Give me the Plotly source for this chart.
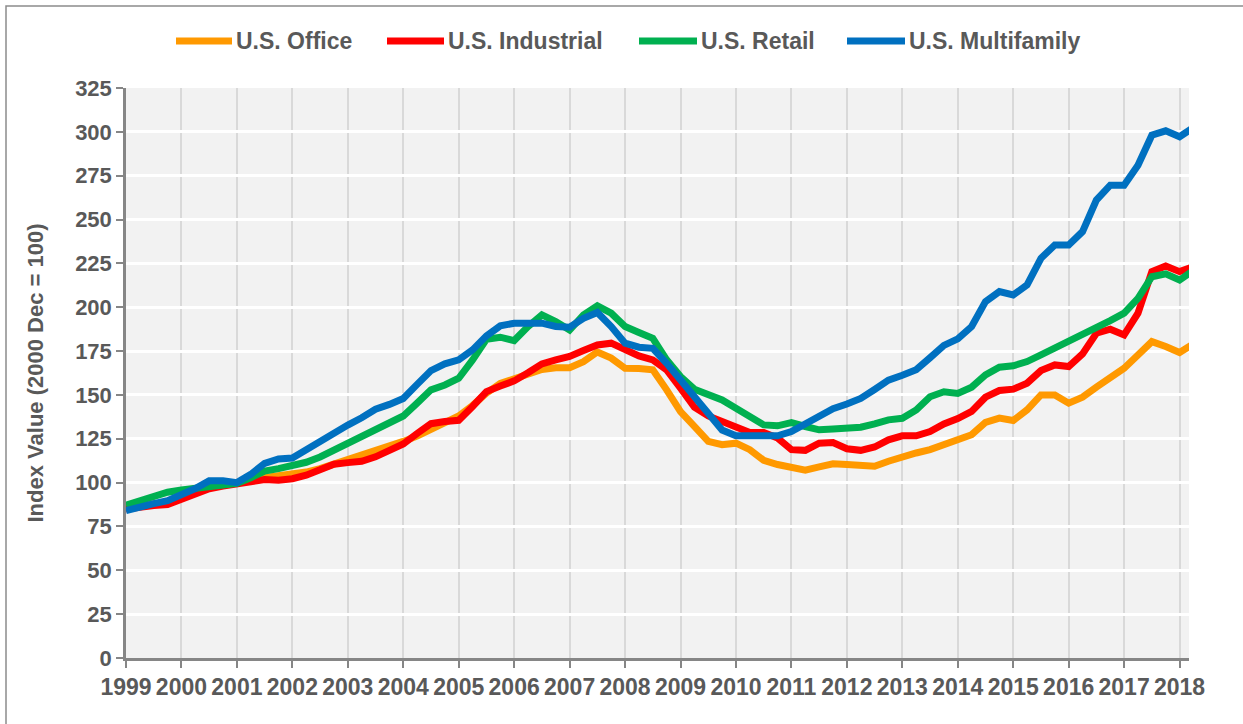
import plotly.graph_objects as go

# ---- data (quarterly index values, 1999 Q1 .. 2018 Q2) ----
start_year = 1999
n_quarters = 78
quarter_x = [start_year + q / 4 for q in range(n_quarters)]

year_ticks = list(range(1999, 2019))
year_labels = [str(y) for y in year_ticks]

series_names = ["U.S. Office", "U.S. Industrial", "U.S. Retail", "U.S. Multifamily"]
series_colors = ["#FF9900", "#FF0000", "#00B050", "#0070C0"]

office = [85.5, 87, 88, 88.5, 91, 94.5, 98, 100.5, 99.5, 101.5, 103, 104, 105, 106, 108, 110.5,
          112.5, 116, 118, 120.5, 123.5, 126.5, 130, 133.5, 138, 144, 151, 156.5, 159.5, 162, 164.5, 165.5,
          165.5, 169, 174.5, 171, 165.2, 165, 164.3, 152.9, 140.5, 132, 123.5, 121.6, 122.5, 118.8, 112.7, 110.3,
          109, 107.1, 109, 110.7, 110.3, 109.3, 109.3, 112.2, 115, 116.9, 118.8, 121.6, 124, 127.3, 134.3, 136.8,
          135.4, 141.5, 150, 150, 145.3, 148.7, 154.4, 160.1, 165.2, 172.8, 180.4, 177.6, 174.2, 179.1]

industrial = [85, 86.5, 87, 87.5, 90.5, 94, 96.5, 98, 99.3, 101.5, 101.8, 101.3, 102.2, 104.2, 107.3, 110.5,
              111.4, 112.2, 114.7, 118, 122, 128, 133.6, 134.8, 135.5, 143.4, 151.9, 155.1, 158, 162.7, 167.7, 170,
              171.9, 175.3, 178.5, 179.5, 175.7, 172.2, 170, 164.3, 153.8, 143, 138, 134.8, 131, 128.6, 128.6, 125.4,
              118.8, 118.4, 122.5, 122.9, 119.3, 118.4, 120.3, 124.4, 126.7, 126.7, 129.1, 133.5, 136.5, 140.6, 148.7, 152.5,
              153.3, 156.7, 163.9, 167.1, 166.2, 173.4, 185.2, 187.5, 184.2, 196.6, 220.3, 223.5, 220.3, 223.1]

retail = [87.2, 89.7, 92.5, 94.5, 95.8, 97, 98, 99, 99.6, 102.8, 106.6, 108, 109.4, 111.6, 114.6, 118.4,
          122, 126.3, 130.4, 133.4, 138, 145.3, 152.9, 155.7, 159.5, 170, 181.7, 182.9, 181, 189, 195.6, 191.8,
          187, 195.6, 200.8, 196.6, 189, 185.6, 182.3, 170, 160.5, 153.3, 150.5, 147.1, 142.4, 137.6, 132.9, 132.4,
          134.2, 132, 130.1, 130.5, 131, 131.6, 133.5, 135.8, 136.7, 141.4, 149, 151.8, 150.8, 154.4, 161.4, 165.8,
          166.6, 169, 172.8, 176.6, 179.9, 183.7, 188, 192.4, 196.6, 205.1, 217.4, 219, 215.5, 220.9]

multifamily = [84, 86.3, 88, 89.7, 92.9, 96.6, 101, 101, 100, 104.7, 111, 113.5, 114, 118.8, 124, 128.7,
               132.8, 137, 141.8, 144.6, 148, 156, 163.9, 167.7, 170, 175.7, 183.7, 189.4, 190.9, 190.9, 190.9, 189,
               188.6, 193.7, 197, 189, 179.5, 177.2, 176.6, 168, 158.6, 149, 138.6, 130, 126.7, 126.7, 126.7, 126.7,
               129.1, 133.5, 138, 142.2, 144.8, 148, 153.1, 158.4, 161.2, 164.4, 171.2, 178.2, 182, 189, 203.2, 208.9,
               207, 212.7, 227.9, 235.5, 235.5, 243.1, 261.1, 269.6, 269.6, 281, 298.1, 300.6, 297.2, 302.5]

series_values = [office, industrial, retail, multifamily]

y_title = "Index Value (2000 Dec = 100)"

# ---- figure ----
FONT = "Liberation Sans, Arial, sans-serif"
TEXT = "#595959"
AXIS = "#868686"

W, H = 1243, 724
ML, MR, MT, MB = 126, 54, 88, 66
PW = W - ML - MR
PH = H - MT - MB


def px_x(px):
    return (px - ML) / PW


def px_y(py):
    return (H - MB - py) / PH


fig = go.Figure()
for name, color, vals in zip(series_names, series_colors, series_values):
    fig.add_trace(go.Scatter(
        x=quarter_x, y=vals, name=name, mode="lines",
        line=dict(color=color, width=7),
        hoverinfo="x+y+name",
    ))

fig.update_layout(
    width=W, height=H,
    margin=dict(l=ML, r=MR, t=MT, b=MB),
    paper_bgcolor="white",
    plot_bgcolor="#F2F2F2",
    showlegend=False,
    font=dict(family=FONT, color=TEXT),
)

fig.update_xaxes(
    range=[1999, 2018.17],
    tickmode="array", tickvals=year_ticks, ticktext=year_labels,
    showgrid=True, gridcolor="#D9D9D9", gridwidth=2,
    zeroline=False,
    showline=True, linecolor=AXIS, linewidth=2.5,
    ticks="outside", ticklen=7, tickwidth=2, tickcolor=AXIS,
    tickfont=dict(family=FONT, size=23, color=TEXT, weight="bold"),
)

fig.update_yaxes(
    range=[0, 325], dtick=25, tick0=0,
    showgrid=True, gridcolor="white", gridwidth=2.5,
    zeroline=False,
    showline=True, linecolor=AXIS, linewidth=2.5,
    ticks="outside", ticklen=7, tickwidth=2, tickcolor=AXIS,
    tickfont=dict(family=FONT, size=22, color=TEXT, weight="bold"),
    title=dict(text=y_title, font=dict(family=FONT, size=22, color=TEXT, weight="bold"), standoff=26),
)

# custom legend (symbol line + label) on top of the chart
legend_symbol_px = [(176, 232), (387, 444), (639, 697), (847, 905)]
legend_y_px = 41
shapes = []
annotations = []
for (x0, x1), name, color in zip(legend_symbol_px, series_names, series_colors):
    shapes.append(dict(type="line", xref="paper", yref="paper",
                       x0=px_x(x0), x1=px_x(x1), y0=px_y(legend_y_px), y1=px_y(legend_y_px),
                       line=dict(color=color, width=7)))
    annotations.append(dict(xref="paper", yref="paper", x=px_x(x1 + 2), y=px_y(legend_y_px),
                            xanchor="left", yanchor="middle", showarrow=False,
                            text=name, font=dict(family=FONT, size=23, color=TEXT, weight="bold")))

# chart border (top and left visible)
shapes.append(dict(type="rect", xref="paper", yref="paper",
                   x0=px_x(6), x1=px_x(1260), y0=px_y(6), y1=px_y(740),
                   line=dict(color="#8C8C8C", width=1.5), fillcolor="rgba(0,0,0,0)", layer="below"))

fig.update_layout(shapes=shapes, annotations=annotations)

fig.write_html("out.html",
               config={"displayModeBar": False},
               post_script="document.body.style.margin='0';document.body.style.overflow='hidden';")
